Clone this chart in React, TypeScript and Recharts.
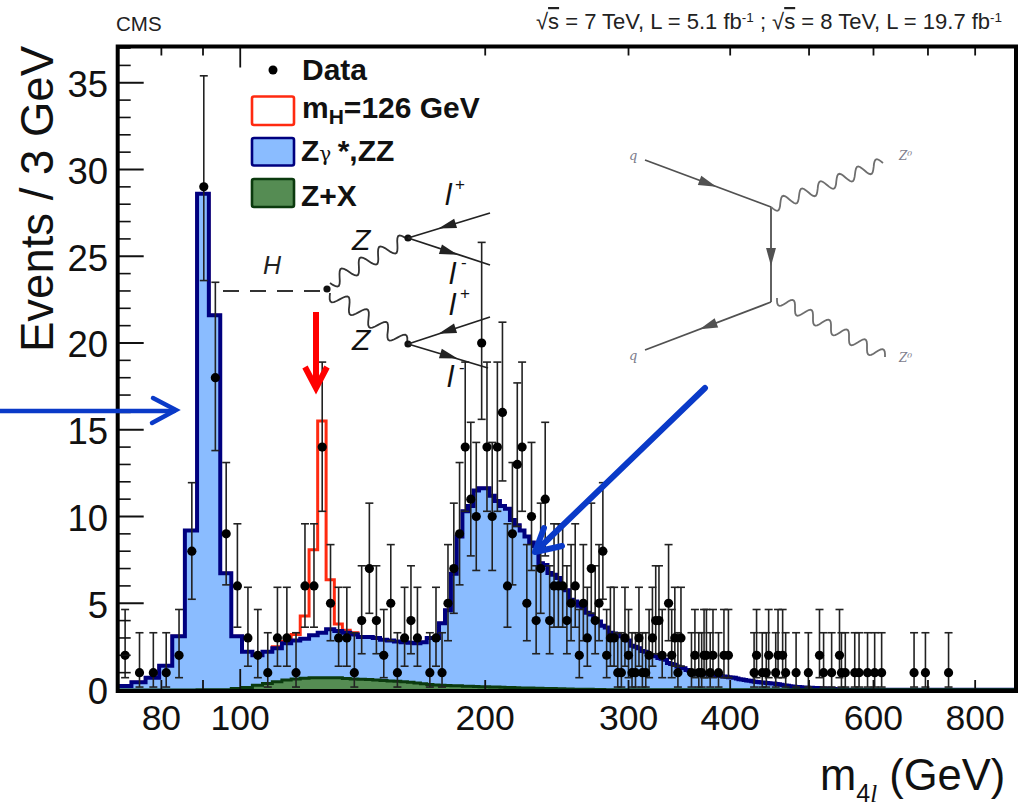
import React from 'react';
import { ComposedChart, Area, Line, XAxis, YAxis, ErrorBar } from 'recharts';

// first bin starts at 70.5 GeV, every bin is 3 GeV wide
const zzEvents = [
  0.23, 0.45, 0.7, 1.4, 3.1, 9.2, 28.6, 21.6, 6.73, 3.1,
  2.2, 2.0, 2.2, 2.4, 2.7, 2.85, 2.95, 3.15, 3.3, 3.5,
  3.4, 3.3, 3.2, 3.05, 3.05, 3.0, 2.9, 2.85, 2.8, 2.75,
  2.72, 2.7, 2.75, 3.0, 3.0, 3.85, 4.6, 6.7, 8.85, 10.3,
  10.6, 11.5, 11.63, 11.63, 11.2, 10.9, 10.6, 10.45, 9.8, 9.5,
  9.2, 8.85, 8.5, 8.3, 7.3, 7.2, 6.75, 6.65, 6.45, 5.9,
  5.75, 5.2, 5.1, 4.85, 4.75, 4.45, 4.35, 4.05, 3.95, 3.7,
  3.6, 3.3, 3.25, 3.2, 3.1, 2.95, 2.85, 2.55, 2.5, 2.4,
  2.25, 2.2, 2.05, 2.0, 1.95, 1.85, 1.8, 1.75, 1.55, 1.5,
  1.45, 1.35, 1.3, 1.25, 1.15, 1.1, 1.08, 1.05, 1.0, 0.98,
  0.95, 0.93, 0.9, 0.88, 0.85, 0.82, 0.8, 0.78, 0.77, 0.74,
  0.72, 0.7, 0.66, 0.62, 0.6, 0.58, 0.55, 0.53, 0.5, 0.48,
  0.46, 0.45, 0.43, 0.42, 0.4, 0.39, 0.38, 0.37, 0.35, 0.33,
  0.3, 0.28, 0.26, 0.24, 0.22, 0.2, 0.19, 0.18, 0.17, 0.16,
  0.15, 0.15, 0.14, 0.13, 0.13, 0.12, 0.11, 0.11, 0.1, 0.1,
  0.09, 0.09, 0.08, 0.08, 0.07, 0.06, 0.05, 0.05, 0.04, 0.04,
  0.03, 0.03, 0.02, 0.02,
];
const zxEvents = [
  0, 0, 0, 0, 0, 0, 0.01, 0.01, 0.02, 0.08,
  0.15, 0.28, 0.38, 0.48, 0.58, 0.64, 0.68, 0.7, 0.71, 0.71,
  0.7, 0.67, 0.64, 0.62, 0.6, 0.57, 0.55, 0.52, 0.5, 0.48,
  0.44, 0.4, 0.36, 0.32, 0.29, 0.27, 0.26, 0.25, 0.24, 0.22,
  0.21, 0.2, 0.19, 0.19, 0.18, 0.17, 0.16, 0.15, 0.14, 0.13,
  0.12, 0.11, 0.11, 0.1, 0.1, 0.09, 0.09, 0.08, 0.07, 0.07,
  0.06, 0.06, 0.05, 0.05, 0.04, 0.04, 0.04, 0.03, 0.03, 0.03,
  0.02, 0.02, 0.02, 0.02,
];
// signal + background, only where it rises above zzEvents (109.5 to 139.5 GeV)
const higgsPeak = [2.5, 2.8, 3.2, 4.27, 8.08, 15.5, 6.35, 3.8, 3.45, 3.3];

const pointMass = [
  72.2, 75.2, 78.2, 81.1, 84.1, 87.2, 90.2, 93.2, 96.1, 99.2,
  102.2, 105.1, 108.1, 111.1, 114.1, 117.1, 120.1, 123.2, 126.1, 129.1,
  132.1, 135.2, 138.1, 141, 144.1, 147, 150.1, 153.1, 156, 159.2,
  162.1, 165.1, 171, 174, 177, 180, 183, 186, 189, 192,
  195, 198, 201, 204, 207, 210, 213, 216, 219, 222,
  225, 228, 231, 234, 237, 240, 243, 246, 249, 252,
  255, 258, 261, 264, 267, 270, 273, 276, 279, 282,
  285, 288, 291, 294, 297, 300, 303, 306, 309, 312,
  315, 318, 321, 324, 327, 330, 336, 339, 342, 345,
  348, 358.5, 362, 366, 369, 371.5, 374, 378, 381, 387,
  393, 398, 428, 431, 438, 443, 446, 455, 458, 464,
  468, 482, 499, 515, 521, 533, 545, 548, 554, 569,
  576, 590, 602, 614, 673, 695, 742,
];
const pointCount = [
  2, 1, 1, 1, 2, 8, 29, 18, 9, 6,
  3, 2, 1, 3, 3, 1, 6, 6, 14, 5,
  3, 3, 1, 4, 7, 4, 2, 5, 1, 3,
  4, 3, 1, 3, 1, 5, 7, 9, 14, 11,
  10, 20, 14, 10, 14, 16, 6, 9, 13, 14,
  5, 10, 4, 7, 11, 4, 6, 6, 6, 4,
  5, 6, 2, 5, 3, 7, 4, 5, 8, 2,
  3, 3, 1, 1, 3, 2, 1, 1, 3, 1,
  1, 2, 3, 4, 4, 2, 5, 2, 3, 1,
  3, 1, 2, 1, 1, 2, 2, 1, 2, 1,
  2, 2, 1, 2, 1, 1, 2, 1, 2, 2,
  1, 1, 1, 2, 1, 1, 2, 1, 1, 1,
  1, 1, 1, 1, 1, 1, 1,
];
// poisson interval ends, indexed by the count
const intervalLow = [
  0, 0.17, 0.71, 1.37, 2.09, 2.84, 3.62, 4.42, 5.23, 6.06,
  6.89, 7.73, 8.58, 9.43, 10.3, 11.2, 12.05, 12.9, 13.8, 14.7,
  15.6, 16.5, 17.4, 18.2, 19.1, 20, 20.9, 21.8, 22.7, 23.6,
];
const intervalHigh = [
  1.15, 3.3, 4.64, 5.92, 7.16, 8.38, 9.58, 10.77, 11.95, 13.11,
  14.27, 15.43, 16.6, 17.7, 18.9, 20.1, 21.2, 22.3, 23.5, 24.6,
  25.8, 26.9, 28, 29.1, 30.2, 31.3, 32.4, 33.5, 34.4, 35.4,
];

const massTicks = [80, 90, 100, 200, 300, 400, 500, 600, 700, 800];
const massLabels = [80, 100, 200, 300, 400, 600, 800];
const eventTicks = Array.from({ length: 38 }, (_, i) => i);
const eventLabels = [0, 5, 10, 15, 20, 25, 30, 35];

const FIRST_EDGE = 70.5;
const BIN_WIDTH = 3;
const HIGGS_FIRST_BIN = 13;
const MASS_MIN = 70.7;
const MASS_MAX = 898;

const WIDTH = 1019;
const HEIGHT = 809;
const LEFT = 117.7;
const RIGHT = 1016;
const TOP = 46.5;
const BOTTOM = 690;

const FONT = '"Liberation Sans", Arial, sans-serif';

const histogram = zzEvents.map((zz, i) => {
  const peak = i >= HIGGS_FIRST_BIN ? higgsPeak[i - HIGGS_FIRST_BIN] : undefined;
  return {
    mass: FIRST_EDGE + i * BIN_WIDTH,
    zz,
    zx: zxEvents[i] ?? 0.01,
    higgs: peak ?? zz,
  };
});
histogram.push({ mass: FIRST_EDGE + zzEvents.length * BIN_WIDTH, zz: 0.01, zx: 0.01, higgs: 0.01 });
histogram.push({ mass: MASS_MAX, zz: 0.01, zx: 0.01, higgs: 0.01 });

const points = pointMass.map((mass, i) => {
  const n = pointCount[i];
  return { mass, n, err: [n - intervalLow[n], intervalHigh[n] - n] };
});

const TICK = '#111';

const BottomTick = ({ x, payload }: any) => {
  const len = payload.value === 100 ? 21 : 10;
  return (
    <g>
      <path d={`M${x} ${BOTTOM}V${BOTTOM - len}`} stroke={TICK} strokeWidth={1.8} fill="none" />
      {massLabels.includes(payload.value) && (
        <text x={x} y={730} textAnchor="middle" fontFamily={FONT} fontSize={35.5} fill="#111">
          {payload.value}
        </text>
      )}
    </g>
  );
};

const TopTick = ({ x, payload }: any) => {
  const len = payload.value === 100 ? 21 : 9;
  return <path d={`M${x} ${TOP}V${TOP + len}`} stroke={TICK} strokeWidth={1.8} fill="none" />;
};

const LeftTick = ({ y, payload }: any) => {
  const major = payload.value % 5 === 0;
  return (
    <g>
      <path d={`M${LEFT} ${y}H${LEFT + (major ? 26 : 13)}`} stroke={TICK} strokeWidth={major ? 2 : 1.6} fill="none" />
      {eventLabels.includes(payload.value) && (
        <text x={108} y={y + 14.3} textAnchor="end" fontFamily={FONT} fontSize={36.5} fill="#111">
          {payload.value}
        </text>
      )}
    </g>
  );
};

const RightTick = ({ y, payload }: any) => {
  const major = payload.value % 5 === 0;
  return <path d={`M${RIGHT} ${y}H${RIGHT - (major ? 26 : 13)}`} stroke={TICK} strokeWidth={major ? 2 : 1.6} fill="none" />;
};

// wiggly boson line for the diagrams, purely decoration
const wave = (x1: number, y1: number, x2: number, y2: number, turns: number, amp: number) => {
  const dx = x2 - x1;
  const dy = y2 - y1;
  const len = Math.hypot(dx, dy);
  const steps = turns * 14;
  let d = '';
  for (let i = 0; i <= steps; i++) {
    const t = i / steps;
    const off = Math.sin(t * turns * Math.PI * 2) * amp;
    const px = x1 + dx * t - (dy / len) * off;
    const py = y1 + dy * t + (dx / len) * off;
    d += `${i === 0 ? 'M' : 'L'}${px.toFixed(1)} ${py.toFixed(1)} `;
  }
  return d;
};

const Fermion = ({ x1, y1, x2, y2, mx, my, color = '#222', w = 1.8, size = 9 }: any) => {
  // arrow head at (mx,my) pointing from (x1,y1) towards (x2,y2)
  const len = Math.hypot(x2 - x1, y2 - y1);
  const ux = (x2 - x1) / len;
  const uy = (y2 - y1) / len;
  const head = `${mx + ux * size},${my + uy * size} ${mx - ux * size - uy * size * 0.55},${my - uy * size + ux * size * 0.55} ${mx - ux * size + uy * size * 0.55},${my - uy * size - ux * size * 0.55}`;
  return (
    <g>
      <line x1={x1} y1={y1} x2={x2} y2={y2} stroke={color} strokeWidth={w} />
      <polygon points={head} fill={color} />
    </g>
  );
};

const LegendBox = ({ y, h, fill, stroke }: any) => (
  <rect x={252} y={y} width={42} height={h} rx={2} fill={fill} stroke={stroke} strokeWidth={2.6} />
);

const Lepton = ({ x, y, sign, sx, sy }: any) => (
  <g fontFamily={FONT} fontStyle="italic" fill="#111">
    <text x={x} y={y} fontSize={30}>l</text>
    <text x={sx} y={sy} fontSize={17} fontStyle="normal">{sign}</text>
  </g>
);

const Annotations = () => (
  <svg width={WIDTH} height={HEIGHT} style={{ position: 'absolute', left: 0, top: 0, pointerEvents: 'none' }}>
    <rect x={LEFT} y={TOP} width={RIGHT - LEFT} height={691 - TOP} fill="none" stroke="#000" strokeWidth={4} />

    <text x={116} y={31} fontFamily={FONT} fontSize={20.5} fill="#222">CMS</text>
    <text x={536} y={29} fontFamily={FONT} fontSize={22} fill="#222" xmlSpace="preserve">
      √<tspan textDecoration="overline">s</tspan> = 7 TeV, L = 5.1 fb<tspan dy={-7} fontSize={13.5}>-1</tspan>
      <tspan dy={7}> ; √</tspan><tspan textDecoration="overline">s</tspan> = 8 TeV, L = 19.7 fb<tspan dy={-7} fontSize={13.5}>-1</tspan>
    </text>

    <text transform="translate(53,352) rotate(-90)" fontFamily={FONT} fontSize={45.5} fill="#111">Events / 3 GeV</text>
    <text x={820} y={790} fontFamily={FONT} fontSize={43.5} fill="#111">
      m<tspan dy={12} fontSize={25}>4</tspan><tspan fontSize={25} fontFamily='"Liberation Serif", serif' fontStyle="italic">l</tspan><tspan dy={-12}> (GeV)</tspan>
    </text>

    {/* legend */}
    <circle cx={273} cy={70} r={4.5} fill="#000" />
    <LegendBox y={96.5} h={28.5} fill="#fff" stroke="#ff2a10" />
    <LegendBox y={138} h={27.5} fill="#8abcff" stroke="#00007f" />
    <LegendBox y={179} h={28} fill="#558c53" stroke="#0b3a0e" />
    <g fontFamily={FONT} fontWeight="bold" fontSize={30} fill="#111">
      <text x={302} y={80}>Data</text>
      <text x={302} y={118}>m<tspan dy={6} fontSize={21}>H</tspan><tspan dy={-6}>=126 GeV</tspan></text>
      <text x={301} y={161}>Z<tspan fontFamily='"DejaVu Serif", serif' fontWeight="normal" fontSize={20}>γ </tspan>*,ZZ</text>
      <text x={301} y={206}>Z+X</text>
    </g>

    {/* H to ZZ to 4l diagram */}
    <line x1={223} y1={291} x2={326} y2={291} stroke="#333" strokeWidth={1.8} strokeDasharray="16 11" />
    <circle cx={327} cy={289} r={3.6} fill="#111" />
    <text x={263} y={274} fontFamily={FONT} fontStyle="italic" fontSize={25} fill="#222">H</text>
    <path d={wave(330, 283, 407, 239, 4, 7)} fill="none" stroke="#333" strokeWidth={1.8} />
    <path d={wave(330, 293, 407, 344, 4, 7)} fill="none" stroke="#333" strokeWidth={1.8} />
    <circle cx={408} cy={238} r={3.6} fill="#111" />
    <circle cx={408} cy={344} r={3.6} fill="#111" />
    <Fermion x1={490} y1={213} x2={408} y2={238} mx={447} my={226} />
    <Fermion x1={408} y1={238} x2={490} y2={265} mx={449} my={252} />
    <Fermion x1={490} y1={317} x2={408} y2={344} mx={447} my={331} />
    <Fermion x1={408} y1={344} x2={488} y2={368} mx={449} my={356} />
    <text x={352} y={250} fontFamily={FONT} fontStyle="italic" fontSize={30} fill="#111">Z</text>
    <text x={352} y={350} fontFamily={FONT} fontStyle="italic" fontSize={30} fill="#111">Z</text>
    <Lepton x={445} y={205} sign="+" sx={455} sy={190} />
    <Lepton x={449} y={284} sign="-" sx={461} sy={268} />
    <Lepton x={449} y={315} sign="+" sx={460} sy={299} />
    <Lepton x={447} y={387} sign="-" sx={459} sy={373} />

    {/* qq to ZZ diagram */}
    <g opacity={0.85}>
      <Fermion x1={645} y1={160} x2={771} y2={207} mx={708} my={183.5} color="#333" w={1.8} />
      <Fermion x1={771} y1={207} x2={771} y2={302} mx={771} my={257} color="#333" w={1.8} />
      <Fermion x1={771} y1={302} x2={645} y2={350} mx={708} my={326} color="#333" w={1.8} />
      <path d={wave(771, 207, 883, 163, 6, 6)} fill="none" stroke="#555" strokeWidth={1.8} />
      <path d={wave(777, 298, 885, 357, 6, 6)} fill="none" stroke="#555" strokeWidth={1.8} />
      <g fontFamily='"DejaVu Serif", serif' fontSize={13} fill="#667">
        <text x={629} y={160} fontStyle="italic">q</text>
        <text x={629} y={360} fontStyle="italic">q</text>
        <text x={899} y={160} fontStyle="italic" fontSize={12}>Z⁰</text>
        <text x={899} y={362} fontStyle="italic" fontSize={12}>Z⁰</text>
      </g>
    </g>

    {/* hand drawn arrows */}
    <g fill="none" stroke="#ff0000" strokeWidth={6}>
      <line x1={316} y1={312} x2={316} y2={388} />
      <polyline points="305,367 316,388 327,367" />
    </g>
    <g fill="none" stroke="#0a3ac8" strokeWidth={4.5} strokeLinecap="round">
      <line x1={0} y1={411} x2={174} y2={411} />
      <polyline points="153,398 176,410 152,423" />
    </g>
    <g fill="none" stroke="#0a3ac8" strokeWidth={6} strokeLinecap="round" strokeLinejoin="round">
      <line x1={705} y1={388} x2={536} y2={551} />
      <polyline points="544,528 535,552 562,546" />
    </g>
  </svg>
);

const App: React.FC = () => (
  <div style={{ position: 'absolute', left: 0, top: 0, width: WIDTH, height: HEIGHT, background: '#fff' }}>
    <ComposedChart width={WIDTH} height={HEIGHT} data={histogram} margin={{ top: 0, right: 0, bottom: 0, left: 0 }}>
      <XAxis
        dataKey="mass"
        type="number"
        scale="log"
        domain={[MASS_MIN, MASS_MAX]}
        allowDataOverflow
        ticks={massTicks}
        interval={0}
        height={HEIGHT - BOTTOM}
        axisLine={false}
        tickLine={false}
        tick={<BottomTick />}
      />
      <XAxis
        xAxisId="top"
        orientation="top"
        dataKey="mass"
        type="number"
        scale="log"
        domain={[MASS_MIN, MASS_MAX]}
        allowDataOverflow
        ticks={massTicks}
        interval={0}
        height={TOP}
        axisLine={false}
        tickLine={false}
        tick={<TopTick />}
      />
      <YAxis
        type="number"
        domain={[0, 37.09]}
        ticks={eventTicks}
        interval={0}
        width={LEFT}
        axisLine={false}
        tickLine={false}
        tick={<LeftTick />}
      />
      <YAxis
        yAxisId="right"
        orientation="right"
        type="number"
        domain={[0, 37.09]}
        ticks={eventTicks}
        interval={0}
        width={WIDTH - RIGHT}
        axisLine={false}
        tickLine={false}
        tick={<RightTick />}
      />
      <Area
        type="stepAfter"
        dataKey="higgs"
        stroke="#ff2a10"
        strokeWidth={3}
        fill="none"
        dot={false}
        activeDot={false}
        isAnimationActive={false}
      />
      <Area
        type="stepAfter"
        dataKey="zz"
        stroke="#00007f"
        strokeWidth={4}
        fill="#8abcff"
        fillOpacity={1}
        dot={false}
        activeDot={false}
        isAnimationActive={false}
      />
      <Area
        type="stepAfter"
        dataKey="zx"
        stroke="#0b3a0e"
        strokeWidth={3}
        fill="#558c53"
        fillOpacity={1}
        dot={false}
        activeDot={false}
        isAnimationActive={false}
      />
      <Line
        data={points}
        dataKey="n"
        stroke="none"
        dot={{ r: 4.6, fill: '#000', stroke: 'none' }}
        activeDot={false}
        isAnimationActive={false}
      >
        <ErrorBar dataKey="err" direction="y" width={4} stroke="#222" strokeWidth={1.6} isAnimationActive={false} />
      </Line>
    </ComposedChart>
    <Annotations />
  </div>
);

export default App;
